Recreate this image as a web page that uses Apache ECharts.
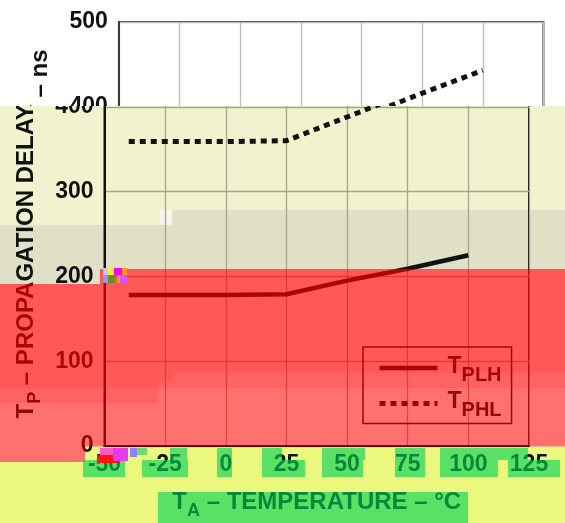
<!DOCTYPE html>
<html><head><meta charset="utf-8">
<script src="https://cdn.jsdelivr.net/npm/echarts/dist/echarts.min.js"></script>
<style>
html,body{margin:0;padding:0;background:#fff;}
#wrap{position:relative;width:565px;height:523px;overflow:hidden;background:#fff;}
.clip{position:absolute;left:0;width:565px;overflow:hidden;}
#topclip{top:0;height:106px;}
#botclip{top:106px;height:417px;}
.chart{position:absolute;left:0;width:565px;height:523px;}
#cTop{top:0;}
#cBot{top:-106px;}
</style></head>
<body>
<div id="wrap">
 <div class="clip" id="botclip"><div class="chart" id="cBot"></div></div>
 <div class="clip" id="topclip"><div class="chart" id="cTop"></div></div>
</div>
<script>
// ---- data ----
const tempsC = [-40, -25, 0, 25, 50, 75, 100];
const tPLH   = [178, 178, 178, 179, 195, 209, 225];
const tPHL   = [359, 359, 359, 360, 388, 416, 443];
const xTicks = [-50, -25, 0, 25, 50, 75, 100, 125];
const yTicks = [0, 100, 200, 300, 400, 500];
const seriesNames = ['TPLH', 'TPHL'];

const FONT = '"Liberation Sans", Arial, Helvetica, sans-serif';

function build(dx, top) {
  const ink = '#111';
  const gridCol = top ? '#bdbdbd' : '#a6a68c';
  const richName = {
    t: {fontSize: 24, fontWeight: 'bold', fontFamily: FONT, color: ink, lineHeight: 26, verticalAlign: 'top'},
    s: {fontSize: 18, fontWeight: 'bold', fontFamily: FONT, color: ink, lineHeight: 18, padding: [12, 0, 0, 0], verticalAlign: 'top'}
  };
  const solid = {color: ink, width: 4.5, type: 'solid', cap: 'butt'};
  const dotted = {color: ink, width: 5, type: [6, 5], cap: 'butt'};
  const opt = {
    animation: false,
    backgroundColor: '#fff',
    grid: {left: 104.5 + dx, right: 36 - dx, top: 22, bottom: 77, show: true,
           borderColor: top ? '#3a3a3a' : ink, borderWidth: 2, backgroundColor: 'transparent',
           containLabel: false, outerBoundsMode: 'none', z: 1},
    xAxis: {
      type: 'value', min: xTicks[0], max: xTicks[xTicks.length - 1], interval: xTicks[1] - xTicks[0], z: 2,
      axisLine: {show: true, onZero: false, lineStyle: {color: ink, width: 2}},
      axisTick: {show: false},
      splitLine: {show: true, lineStyle: {color: gridCol, width: 1.3}},
      axisLabel: {fontSize: 23, fontWeight: 'bold', fontFamily: FONT, color: ink, margin: 7},
      name: '{t|T}{s|A}{t| – TEMPERATURE – °C}', nameLocation: 'middle', nameGap: 44,
      nameTextStyle: {rich: richName}
    },
    yAxis: {
      type: 'value', min: yTicks[0], max: yTicks[yTicks.length - 1], interval: yTicks[1] - yTicks[0], z: 2,
      axisLine: {show: true, onZero: false, lineStyle: {color: top ? '#3a3a3a' : ink, width: 2}},
      axisTick: {show: false},
      splitLine: {show: true, lineStyle: {color: gridCol, width: 1.3}},
      axisLabel: {fontSize: 23, fontWeight: 'bold', fontFamily: FONT, color: ink, margin: 11},
      name: '{t|T}{s|P}{t| – PROPAGATION DELAY – ns}', nameLocation: 'middle', nameGap: 64, nameRotate: 90,
      nameTextStyle: {rich: richName}
    },
    legend: {
      show: !top, left: 363, top: 347, orient: 'vertical', selectedMode: false,
      padding: [8, 10, 3, 14], itemGap: 5.4, itemWidth: 58, itemHeight: 14,
      borderColor: ink, borderWidth: 1.5, backgroundColor: 'transparent', z: 4,
      itemStyle: {opacity: 0},
      data: [{name: seriesNames[0], lineStyle: solid, itemStyle: {opacity: 0}},
             {name: seriesNames[1], lineStyle: dotted, itemStyle: {opacity: 0}}],
      formatter: n => '{t|T}{s|' + n.slice(1) + '}',
      textStyle: {rich: {
        t: {fontSize: 23, fontWeight: 'bold', fontFamily: FONT, color: ink, lineHeight: 26, verticalAlign: 'top', padding: [0, 0, 0, 5]},
        s: {fontSize: 20, fontWeight: 'bold', fontFamily: FONT, color: ink, lineHeight: 20, padding: [10, 0, 0, 0], verticalAlign: 'top'}
      }}
    },
    series: [
      {name: seriesNames[0], type: 'line', symbol: 'none', z: 3, clip: true,
       itemStyle: {color: ink},
       data: tempsC.map((t, i) => [t, tPLH[i]]),
       lineStyle: solid},
      {name: seriesNames[1], type: 'line', symbol: 'none', z: 3, clip: true,
       itemStyle: {color: ink},
       data: tempsC.map((t, i) => [t, tPHL[i]]),
       lineStyle: dotted}
    ]
  };
  if (!top) opt.graphic = {elements: glitchLayers()};
  return opt;
}

function R(x, y, w, h, fill, z) {
  return {type: 'rect', silent: true, z: z, shape: {x: x, y: y, width: w, height: h}, style: {fill: fill}};
}

function glitchLayers() {
  const pale = 'rgb(240,243,205)', gray = 'rgb(223,224,197)', yel = 'rgb(234,248,126)';
  const r1 = 'rgba(255,0,0,0.655)', r2 = 'rgba(255,0,0,0.615)', r3 = 'rgba(255,0,0,0.56)';
  const g = 'rgba(0,210,85,0.62)';
  return [
    // backgrounds (under the chart)
    R(0, 106, 160, 119, pale, 0), R(160, 106, 405, 104, pale, 0),
    R(0, 225, 100, 59, gray, 0), R(100, 225, 60, 44, gray, 0), R(160, 210, 405, 59, gray, 0),
    R(160, 210, 12, 15, 'rgb(246,246,236)', 0),
    R(0, 462, 85, 61, yel, 0), R(85, 446.5, 480, 77, yel, 0),
    // red overlays
    R(0, 284, 100, 104, r1, 50), R(100, 269, 58, 119, r1, 50), R(158, 269, 15, 112, r1, 50), R(173, 269, 392, 104, r1, 50),
    R(0, 388, 158, 15, r2, 50), R(158, 381, 15, 7, r2, 50), R(173, 373, 392, 15, r2, 50),
    R(0, 403, 85, 59, r3, 50), R(85, 403, 73, 43.5, r3, 50), R(158, 388, 407, 58.5, r3, 50),
    // green boxes, tick label rows
    R(170, 448, 17, 12, g, 50), R(217, 448, 15, 12, g, 50), R(262, 448, 20, 12, g, 50),
    R(322, 448, 43, 12, g, 50), R(395, 448, 30, 12, g, 50), R(440, 448, 88, 12, g, 50),
    R(83, 460, 42, 17, g, 50), R(142, 460, 46, 17, g, 50), R(217, 460, 15, 17, g, 50),
    R(262, 460, 43, 17, g, 50), R(322, 460, 41, 17, g, 50), R(395, 460, 30, 17, g, 50),
    R(440, 460, 58, 17, g, 50), R(508, 460, 52, 17, g, 50),
    // green box, axis title
    R(158, 492, 310, 31, g, 50),
    // small colour glitches
    R(103, 268, 5, 7, 'rgb(205,195,250)', 51), R(108, 268, 6, 7, 'rgb(235,245,40)', 51),
    R(114, 268, 8, 7, 'rgb(250,0,250)', 51), R(122, 268, 5, 7, 'rgb(250,150,30)', 51),
    R(103, 275, 5, 8, 'rgb(150,150,235)', 51), R(108, 275, 7, 8, 'rgb(110,140,30)', 51),
    R(117, 275, 3, 8, 'rgb(250,150,30)', 51), R(120, 275, 7, 8, 'rgb(220,80,255)', 51),
    R(100, 448, 13, 7, 'rgb(255,90,200)', 51), R(97, 455, 23, 8, 'rgb(255,20,20)', 51),
    R(113, 448, 15, 13, 'rgb(230,60,230)', 51), R(130, 448, 7, 9, 'rgb(140,130,255)', 51),
    R(137, 448, 10, 7, 'rgb(110,220,110)', 51)
  ];
}

const cTop = echarts.init(document.getElementById('cTop'), null, {renderer: 'canvas'});
cTop.setOption(build(14.4, true));
const cBot = echarts.init(document.getElementById('cBot'), null, {renderer: 'canvas'});
cBot.setOption(build(0, false));
</script>
</body></html>
